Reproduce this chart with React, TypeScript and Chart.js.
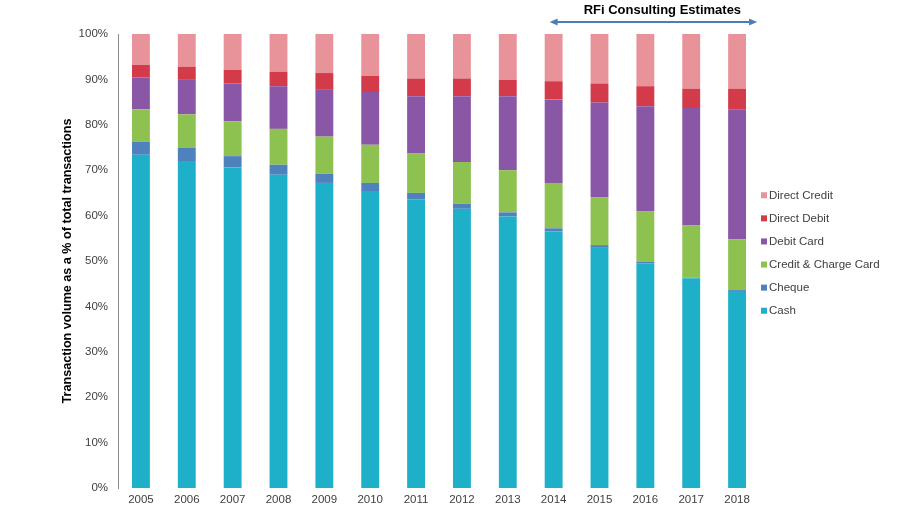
import React, { useEffect, useRef } from "react";
import { Chart, registerables } from "chart.js";

Chart.register(...registerables);

const years = ["2005", "2006", "2007", "2008", "2009", "2010", "2011", "2012", "2013", "2014", "2015", "2016", "2017", "2018"];

const cash = [73.4, 72.0, 70.6, 69.0, 67.2, 65.4, 63.6, 61.5, 59.8, 56.5, 52.9, 49.5, 46.2, 43.4];
const cheque = [2.9, 2.9, 2.5, 2.2, 2.0, 1.8, 1.4, 1.1, 0.9, 0.7, 0.6, 0.3, 0.1, 0.2];
const creditCharge = [7.1, 7.4, 7.7, 7.9, 8.2, 8.4, 8.7, 9.2, 9.3, 10.0, 10.5, 11.2, 11.5, 11.2];
const debitCard = [7.0, 7.6, 8.3, 9.4, 10.3, 11.6, 12.6, 14.5, 16.3, 18.4, 20.9, 23.1, 25.9, 28.6];
const directDebit = [2.8, 2.9, 3.0, 3.2, 3.7, 3.6, 3.9, 3.9, 3.6, 4.0, 4.2, 4.4, 4.2, 4.5];
const directCredit = [6.8, 7.2, 7.9, 8.3, 8.6, 9.2, 9.8, 9.8, 10.1, 10.4, 10.9, 11.5, 12.1, 12.1];

const seriesNames = ["Cash", "Cheque", "Credit & Charge Card", "Debit Card", "Direct Debit", "Direct Credit"];
const seriesColors = ["#1fb0c9", "#4f81bd", "#8dc251", "#8a56a6", "#d33a4a", "#e8939a"];
const seriesData = [cash, cheque, creditCharge, debitCard, directDebit, directCredit];

const yTicks = [0, 10, 20, 30, 40, 50, 60, 70, 80, 90, 100];
const estimateLabel = "RFi Consulting Estimates";
const estimateStart = "2014";
const estimateEnd = "2018";
const yTitle = "Transaction volume as a % of total transactions";

const FONT = "'Liberation Sans', Arial, sans-serif";
const TEXT = "#404040";

const overlayPlugin = {
  id: "overlay",
  afterDraw(chart: any) {
    const ctx = chart.ctx;
    const xs = chart.scales.x;
    const area = chart.chartArea;
    ctx.save();
    // custom legend (reversed order)
    const items = seriesNames.map((n, i) => ({ n, c: seriesColors[i] })).reverse();
    const spacing = 23.1;
    const startY = (area.top + area.bottom) / 2 - 8 - (spacing * (items.length - 1)) / 2;
    const lx = area.right + 1;
    ctx.font = `11.5px ${FONT}`;
    ctx.textBaseline = "middle";
    ctx.textAlign = "left";
    items.forEach((it, i) => {
      const y = startY + i * spacing;
      ctx.fillStyle = it.c;
      ctx.fillRect(lx, y - 3, 6, 6);
      ctx.fillStyle = TEXT;
      ctx.fillText(it.n, lx + 8, y + 0.5);
    });
    // estimate arrow
    const x1 = xs.getPixelForValue(years.indexOf(estimateStart)) - 4;
    const x2 = xs.getPixelForValue(years.indexOf(estimateEnd)) + 20;
    const ay = area.top - 12;
    ctx.strokeStyle = "#4a7ebb";
    ctx.fillStyle = "#4a7ebb";
    ctx.lineWidth = 2;
    ctx.beginPath();
    ctx.moveTo(x1 + 6, ay);
    ctx.lineTo(x2 - 6, ay);
    ctx.stroke();
    ctx.beginPath();
    ctx.moveTo(x1, ay);
    ctx.lineTo(x1 + 8, ay - 3.5);
    ctx.lineTo(x1 + 8, ay + 3.5);
    ctx.closePath();
    ctx.fill();
    ctx.beginPath();
    ctx.moveTo(x2, ay);
    ctx.lineTo(x2 - 8, ay - 3.5);
    ctx.lineTo(x2 - 8, ay + 3.5);
    ctx.closePath();
    ctx.fill();
    ctx.font = `bold 13px ${FONT}`;
    ctx.fillStyle = "#000";
    ctx.textAlign = "center";
    ctx.fillText(estimateLabel, (x1 + x2) / 2 + 9, ay - 12);
    ctx.restore();
  },
};

export default function App() {
  const ref = useRef<HTMLCanvasElement>(null);
  useEffect(() => {
    if (!ref.current) return;
    const chart = new Chart(ref.current, {
      type: "bar",
      data: {
        labels: years,
        datasets: seriesNames.map((name, i) => ({
          label: name,
          data: seriesData[i],
          backgroundColor: seriesColors[i],
          borderWidth: 0,
          categoryPercentage: 1,
          barPercentage: 0.39,
        })),
      },
      options: {
        responsive: false,
        animation: false,
        layout: { padding: { top: 34, right: 149, bottom: 0, left: 0 } },
        plugins: {
          legend: { display: false },
          tooltip: { enabled: false },
        },
        scales: {
          x: {
            stacked: true,
            grid: { display: false, drawTicks: false },
            border: { display: false },
            ticks: { color: TEXT, font: { family: FONT, size: 11.5 }, padding: 5, maxRotation: 0 },
            afterFit: (s: any) => {
              s.height = 23;
            },
          },
          y: {
            stacked: true,
            min: 0,
            max: 100,
            afterBuildTicks: (s: any) => {
              s.ticks = yTicks.map((v) => ({ value: v }));
            },
            grid: { display: false, drawTicks: false },
            border: { display: true, color: "#8c8c8c", width: 1 },
            ticks: {
              color: TEXT,
              font: { family: FONT, size: 11.5 },
              padding: 10,
              callback: (v: any) => `${v}%`,
            },
            title: {
              display: true,
              text: yTitle,
              color: "#000",
              font: { family: FONT, size: 12.6, weight: "bold" },
              padding: { top: 60, bottom: 0 },
            },
            afterFit: (s: any) => {
              s.width = 118;
            },
          },
        },
      },
      plugins: [overlayPlugin],
    });
    return () => chart.destroy();
  }, []);
  return (
    <div style={{ position: "absolute", left: 0, top: 0, width: 909, height: 511, background: "#fff" }}>
      <canvas ref={ref} width={909} height={511} style={{ display: "block" }} />
    </div>
  );
}
